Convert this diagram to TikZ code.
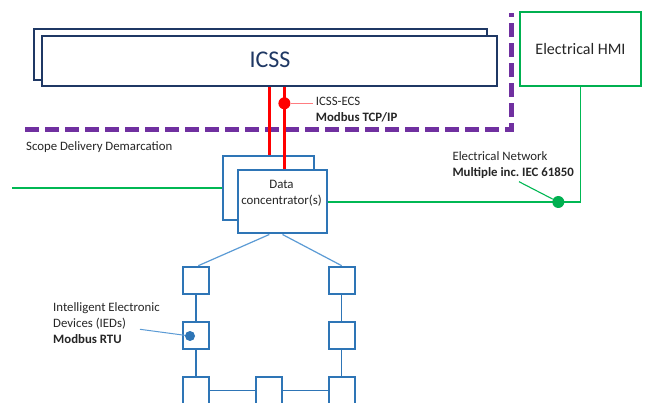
\documentclass[tikz,border=0pt]{standalone}
\usepackage{fontspec}
\setmainfont{Carlito}
\frenchspacing
\definecolor{navy}{HTML}{1F3864}
\definecolor{purp}{HTML}{7030A0}
\definecolor{grn}{HTML}{00B050}
\definecolor{grnline}{HTML}{00B853}
\definecolor{blu}{HTML}{2E75B6}
\definecolor{lblu}{HTML}{5B9BD5}
\definecolor{txt}{HTML}{262626}
\definecolor{lred}{HTML}{FF7C80}
\begin{document}
\begin{tikzpicture}[x=1pt,y=-1pt,
  navybox/.style={draw=navy,line width=2pt,fill=white,rectangle,inner sep=0pt},
  dcbox/.style={draw=blu,line width=2pt,fill=white,rectangle,inner sep=0pt},
  ied/.style={draw=blu,line width=2pt,fill=white,rectangle,inner sep=0pt,minimum width=26pt,minimum height=27pt},
  lbl/.style={font=\fontsize{12.8}{16}\selectfont,text=txt,align=left,inner sep=0pt,anchor=west},
  redline/.style={draw=red,line width=2.4pt},
  ringline/.style={draw=blu,line width=1.2pt},
  dot/.style={circle,inner sep=0pt}]
\useasboundingbox (0,0) rectangle (645,403);
\fill[white] (0,0) rectangle (645,403);

% ICSS
\node[navybox,minimum width=453.3pt,minimum height=50.5pt] (icssB) at (260.7,54.75) {};
\node[navybox,minimum width=454.7pt,minimum height=50pt] (icssF) at (269.35,61) {};
\node[text=navy,font=\fontsize{24}{28}\selectfont,inner sep=0pt] (icsst) at (270,60) {ICSS};

% Electrical HMI
\node[draw=grn,line width=2pt,rectangle,minimum width=121pt,minimum height=74pt,inner sep=0pt] (hmi) at (580.5,49) {};
\node[text=txt,font=\fontsize{16}{19}\selectfont,inner sep=0pt] (hmit) at (580.5,49) {Electrical HMI};

% Data concentrator
\node[dcbox,minimum width=90.4pt,minimum height=64.3pt] (dcB) at (268.5,187.85) {};
\node[dcbox,minimum width=89pt,minimum height=63pt] (dcF) at (282.5,202) {};
\node[font=\fontsize{12.9}{16}\selectfont,text=txt,align=center,inner sep=0pt] (dct) at (281.5,193.7) {Data\\concentrator(s)};

% demarcation
\coordinate (pd1) at (25,130);
\coordinate (pd2) at (511.7,130);
\coordinate (pd3) at (511.7,12.7);
\draw[purp,line width=5pt,dash pattern=on 14pt off 6pt] (pd1) -- (pd2) -- (pd3);
\node[lbl] (scope) at (26,146.7) {Scope Delivery Demarcation};

% red links
\coordinate (r1) at (269.3,0);
\coordinate (r2) at (284.4,0);
\draw[redline] (icssF.south -| r1) -- (dcB.north -| r1);
\draw[redline] (icssF.south -| r2) -- (dcF.north -| r2);
\node[dot,fill=red,minimum size=12pt] (rdot) at (284.4,103.3) {};
\coordinate (rl) at (313.3,103.3);
\draw[lred,line width=1pt] (rdot.east) -- (rl);
\node[lbl] (icsslbl) at (315.7,109.7) {ICSS-ECS\\\textbf{Modbus TCP/IP}};

% green network
\coordinate (gl) at (12,188);
\draw[grnline,line width=1.2pt] (gl) -- (dcB.west |- gl);
\draw[grnline,line width=1.2pt] (hmi.south) |- (dcF.east);
\node[dot,fill=grn,minimum size=12pt] (gdot) at (558.3,202) {};
\coordinate (gll) at (519,181.7);
\draw[grnline,line width=1.1pt] (gdot) -- (gll);
\node[lbl] (netlbl) at (452.3,165.5) {Electrical Network\\\textbf{Multiple inc. IEC 61850}};

% IED ring
\node[ied] (s11) at (196,280.2) {};
\node[ied] (s21) at (196,335.2) {};
\node[ied] (s31) at (196,390.2) {};
\node[ied] (s32) at (269.3,390.2) {};
\node[ied] (s33) at (341.7,390.2) {};
\node[ied] (s23) at (341.7,335.2) {};
\node[ied] (s13) at (341.7,280.2) {};
\draw[ringline] (s11) -- (s21) -- (s31) -- (s32) -- (s33) -- (s23) -- (s13);
\draw[draw=lblu,line width=1.2pt] ([xshift=-13.2pt]dcF.south) -- ([xshift=2.3pt]s11.north);
\draw[draw=lblu,line width=1.2pt] (dcF.south) -- (s13.north);
\coordinate (bl) at (140,329.3);
\draw[draw=lblu,line width=1pt] (bl) -- (190,336);
\node[dot,fill=blu,minimum size=10pt] (bdot) at (190,336) {};
\node[lbl,font=\fontsize{12.8}{15.8}\selectfont] (iedlbl) at (53,323.3) {Intelligent Electronic\\Devices (IEDs)\\\textbf{Modbus RTU}};
\end{tikzpicture}
\end{document}
